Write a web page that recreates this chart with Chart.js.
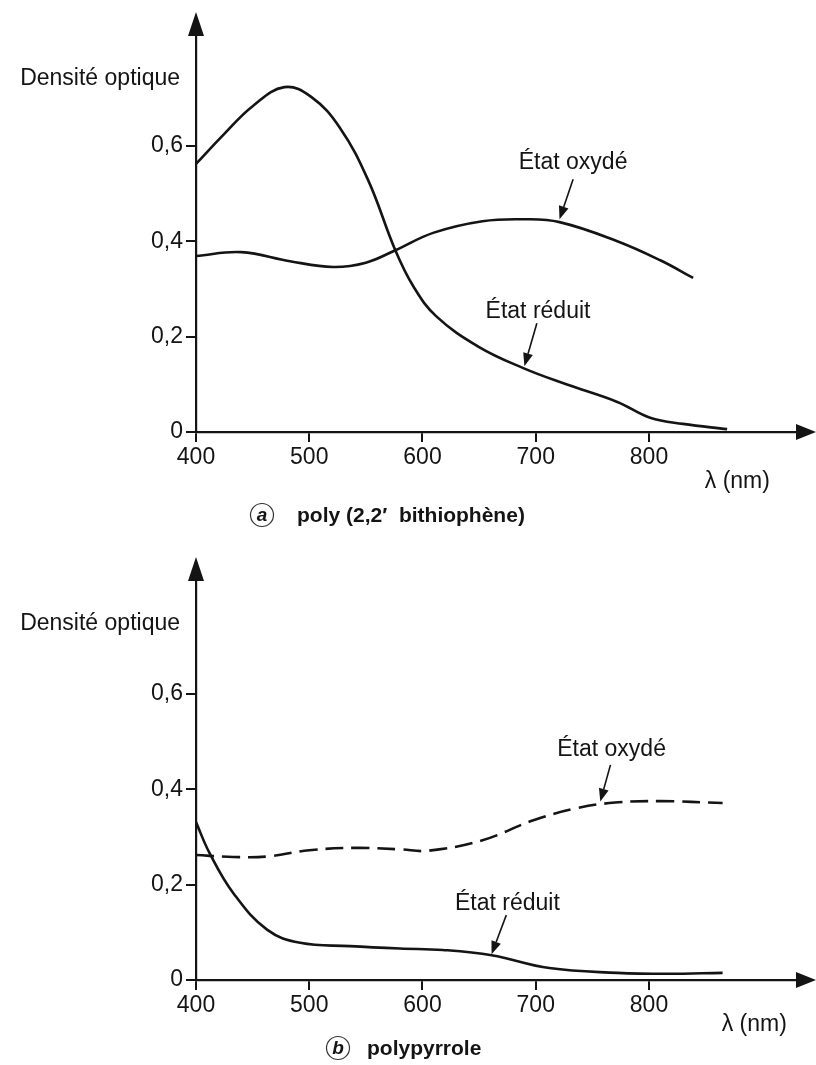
<!DOCTYPE html>
<html>
<head>
<meta charset="utf-8">
<script src="https://cdn.jsdelivr.net/npm/chart.js@4.4.1/dist/chart.umd.min.js"></script>
<style>
  html, body { margin:0; padding:0; background:#fff; }
  #wrap { position:relative; width:816px; height:1065px; background:#fff; }
  canvas { display:block; position:absolute; left:0; }
</style>
</head>
<body>
<div id="wrap">
  <canvas id="c1" width="816" height="540" style="top:0"></canvas>
  <canvas id="c2" width="816" height="525" style="top:540px"></canvas>
</div>
<script>
// ---------- DATA ----------
const lambdaTicks = [400, 500, 600, 700, 800];
const densityTicks = [0, 0.2, 0.4, 0.6];

// (a) poly(2,2' bithiophène)
const bithioReducedLambda = [400, 425, 450, 478, 502, 527, 552, 576, 592, 612, 650, 689, 727, 772, 801, 830, 869];
const bithioReducedValues = [0.562, 0.625, 0.683, 0.723, 0.702, 0.638, 0.528, 0.381, 0.305, 0.243, 0.178, 0.134, 0.10, 0.063, 0.030, 0.017, 0.006];
const bithioOxidizedLambda = [400, 440, 483, 521, 550, 576, 610, 653, 690, 721, 772, 810, 839];
const bithioOxidizedValues = [0.369, 0.377, 0.358, 0.346, 0.355, 0.381, 0.418, 0.442, 0.446, 0.44, 0.40, 0.36, 0.323];

// (b) polypyrrole
const pyrroleReducedLambda = [400, 412, 433, 463, 492, 536, 580, 618, 661, 712, 772, 816, 865];
const pyrroleReducedValues = [0.331, 0.266, 0.182, 0.105, 0.078, 0.071, 0.066, 0.063, 0.052, 0.025, 0.015, 0.013, 0.015];
const pyrroleOxidizedLambda = [400, 433, 463, 500, 540, 580, 605, 653, 698, 736, 770, 810, 865];
const pyrroleOxidizedValues = [0.262, 0.258, 0.259, 0.272, 0.277, 0.274, 0.271, 0.293, 0.335, 0.36, 0.372, 0.375, 0.371];

const labelOx = "État oxydé";
const labelRed = "État réduit";
const yTitle = "Densité optique";
const xTitle = "λ (nm)";
const captionA = { letter: "a", text: "poly (2,2′  bithiophène)" };
const captionB = { letter: "b", text: "polypyrrole" };

// ---------- HELPERS ----------
const INK = '#141414';
const FONT = "'Liberation Sans', Arial, Helvetica, sans-serif";
function pts(xs, ys) { return xs.map((x, i) => ({ x: x, y: ys[i] })); }
function fmt(v) { return String(Math.round(v * 10) / 10).replace('.', ','); }

function drawArrow(ctx, x1, y1, x2, y2, head, half) {
  const a = Math.atan2(y2 - y1, x2 - x1);
  const bx = x2 - head * Math.cos(a), by = y2 - head * Math.sin(a);
  ctx.beginPath(); ctx.moveTo(x1, y1); ctx.lineTo(bx, by); ctx.stroke();
  ctx.beginPath();
  ctx.moveTo(x2, y2);
  ctx.lineTo(bx + half * Math.sin(a), by - half * Math.cos(a));
  ctx.lineTo(bx - half * Math.sin(a), by + half * Math.cos(a));
  ctx.closePath(); ctx.fill();
}

const decorPlugin = {
  id: 'decor',
  beforeDraw(chart) {
    const ctx = chart.ctx;
    ctx.save(); ctx.fillStyle = '#fff';
    ctx.fillRect(0, 0, chart.width, chart.height);
    ctx.restore();
  },
  afterDraw(chart) {
    const o = chart.options.plugins.decor;
    const ctx = chart.ctx, ca = chart.chartArea;
    const xs = chart.scales.x, ys = chart.scales.y;
    ctx.save();
    ctx.fillStyle = INK; ctx.strokeStyle = INK;
    // axis arrowheads
    ctx.beginPath();
    ctx.moveTo(ca.left, o.arrowTop);
    ctx.lineTo(ca.left - 8, ca.top + 1);
    ctx.lineTo(ca.left + 8, ca.top + 1);
    ctx.closePath(); ctx.fill();
    ctx.beginPath();
    ctx.moveTo(chart.width, ca.bottom);
    ctx.lineTo(ca.right - 1, ca.bottom - 8);
    ctx.lineTo(ca.right - 1, ca.bottom + 8);
    ctx.closePath(); ctx.fill();

    // axis titles
    ctx.font = '23px ' + FONT;
    ctx.textBaseline = 'middle';
    ctx.textAlign = 'right';
    ctx.fillText(yTitle, ca.left - 16, ys.getPixelForValue(o.yTitleAt));
    ctx.textAlign = 'center';
    ctx.fillText(xTitle, xs.getPixelForValue(o.xTitleAt), ca.bottom + o.xTitleDy);

    // annotations
    ctx.lineWidth = 1.6;
    o.notes.forEach(n => {
      ctx.font = '23px ' + FONT;
      ctx.textAlign = 'center'; ctx.textBaseline = 'middle';
      ctx.fillText(n.text, xs.getPixelForValue(n.tx), ys.getPixelForValue(n.ty));
      drawArrow(ctx, xs.getPixelForValue(n.ax), ys.getPixelForValue(n.ay),
                xs.getPixelForValue(n.px), ys.getPixelForValue(n.py), 13, 5);
    });

    // caption
    const c = o.caption;
    ctx.lineWidth = 1.2;
    ctx.strokeStyle = '#333';
    ctx.beginPath(); ctx.arc(c.cx, c.cy, 11.5, 0, Math.PI * 2); ctx.stroke();
    ctx.font = 'italic bold 19px ' + FONT;
    ctx.textAlign = 'center'; ctx.textBaseline = 'middle';
    ctx.fillText(c.letter, c.cx, c.cy + 1);
    ctx.font = 'bold 21px ' + FONT;
    ctx.textAlign = 'left';
    ctx.fillText(c.text, c.tx, c.cy + 1);
    ctx.restore();
  }
};

function makeChart(id, cfg) {
  const H = cfg.height;
  return new Chart(document.getElementById(id), {
    type: 'line',
    data: {
      datasets: [
        { label: labelRed, data: pts(cfg.redX, cfg.redY), borderColor: INK, borderWidth: 2.6,
          pointRadius: 0, fill: false, tension: 0.4 },
        { label: labelOx, data: pts(cfg.oxX, cfg.oxY), borderColor: INK, borderWidth: 2.6,
          borderDash: cfg.oxDash, pointRadius: 0, fill: false, tension: 0.4 }
      ]
    },
    options: {
      responsive: false, animation: false, devicePixelRatio: 1,
      layout: { padding: { top: cfg.top, right: 19, left: 0, bottom: 0 } },
      plugins: {
        legend: { display: false }, tooltip: { enabled: false }, title: { display: false },
        decor: cfg.decor
      },
      scales: {
        x: {
          type: 'linear', min: 400, max: 930.7,
          afterBuildTicks: s => { s.ticks = lambdaTicks.map(v => ({ value: v })); },
          afterFit: s => { s.height = H - cfg.axisY; },
          ticks: { color: INK, font: { family: FONT, size: 23 }, padding: 2, maxRotation: 0, autoSkip: false },
          grid: { drawOnChartArea: false, drawTicks: true, tickLength: 10, color: INK, lineWidth: 2 },
          border: { display: true, color: INK, width: 2.2 }
        },
        y: {
          type: 'linear', min: 0, max: cfg.ymax,
          afterBuildTicks: s => { s.ticks = densityTicks.map(v => ({ value: v })); },
          afterFit: s => { s.width = 196; },
          ticks: { color: INK, font: { family: FONT, size: 23 }, padding: 3, callback: v => fmt(v) },
          grid: { drawOnChartArea: false, drawTicks: true, tickLength: 10, color: INK, lineWidth: 2 },
          border: { display: true, color: INK, width: 2.2 }
        }
      }
    },
    plugins: [decorPlugin]
  });
}

makeChart('c1', {
  height: 540, top: 35, axisY: 432, ymax: (432 - 35) / 477,
  redX: bithioReducedLambda, redY: bithioReducedValues,
  oxX: bithioOxidizedLambda, oxY: bithioOxidizedValues, oxDash: [],
  decor: {
    arrowTop: 12, yTitleAt: 0.74, xTitleAt: 878, xTitleDy: 50,
    notes: [
      { text: labelOx, tx: 733, ty: 0.564, ax: 733, ay: 0.530, px: 721, py: 0.446 },
      { text: labelRed, tx: 702, ty: 0.252, ax: 701, ay: 0.228, px: 690, py: 0.138 }
    ],
    caption: { letter: captionA.letter, text: captionA.text, cx: 262, cy: 515, tx: 297 }
  }
});

makeChart('c2', {
  height: 525, top: 40, axisY: 440, ymax: (440 - 40) / 477,
  redX: pyrroleReducedLambda, redY: pyrroleReducedValues,
  oxX: pyrroleOxidizedLambda, oxY: pyrroleOxidizedValues, oxDash: [18, 8],
  decor: {
    arrowTop: 17, yTitleAt: 0.748, xTitleAt: 893, xTitleDy: 45,
    notes: [
      { text: labelOx, tx: 767, ty: 0.482, ax: 766, ay: 0.451, px: 757, py: 0.374 },
      { text: labelRed, tx: 675, ty: 0.161, ax: 674, ay: 0.136, px: 661, py: 0.054 }
    ],
    caption: { letter: captionB.letter, text: captionB.text, cx: 338, cy: 508, tx: 367 }
  }
});
</script>
</body>
</html>
